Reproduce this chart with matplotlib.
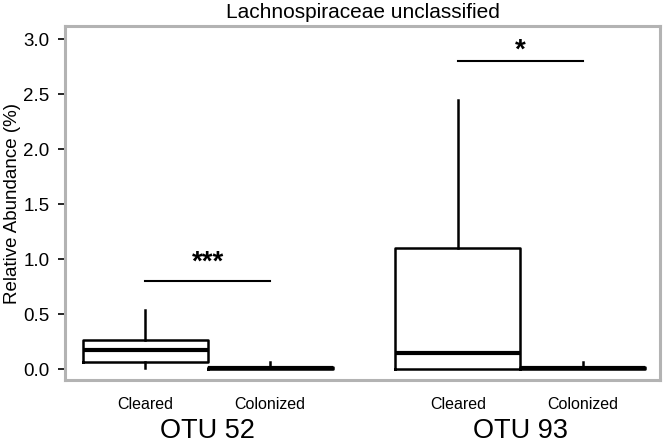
import matplotlib
matplotlib.use("Agg")
import matplotlib.pyplot as plt
import matplotlib.transforms as mtransforms

plt.rcParams['font.family'] = ['Liberation Sans', 'DejaVu Sans']

# box summary values (relative abundance, %)
groups = ["Cleared", "Colonized", "Cleared", "Colonized"]
otu_names = ["OTU 52", "OTU 93"]
positions = [1, 2, 3.5, 4.5]
whislo = [0.01, 0.0, 0.0, 0.0]
q1 = [0.06, 0.0, 0.0, 0.0]
med = [0.17, 0.01, 0.15, 0.01]
q3 = [0.26, 0.02, 1.10, 0.02]
whishi = [0.54, 0.06, 2.45, 0.06]

# significance bars
sig_x1 = [1, 3.5]
sig_x2 = [2, 4.5]
sig_y = [0.80, 2.80]
sig_text_y = [0.85, 2.78]
sig_lab = ["***", "*"]

stats = []
for i in range(len(groups)):
    stats.append(dict(whislo=whislo[i], q1=q1[i], med=med[i], q3=q3[i],
                      whishi=whishi[i], fliers=[], label=groups[i]))

fig = plt.figure(figsize=(6.66, 4.44), dpi=100)
ax = fig.add_axes([0.0976, 0.144, 0.894, 0.797])

lw = 1.8
ax.bxp(stats, positions=positions, widths=1.0, showcaps=False,
       boxprops=dict(color='black', linewidth=lw),
       whiskerprops=dict(color='black', linewidth=lw),
       medianprops=dict(color='black', linewidth=3.0))

for x1, x2, y, ty, lab in zip(sig_x1, sig_x2, sig_y, sig_text_y, sig_lab):
    ax.plot([x1, x2], [y, y], color='black', linewidth=1.5)
    ax.text((x1 + x2) / 2, ty, lab, ha='center', va='bottom',
            fontsize=20, fontweight='bold')

ax.set_xlim(0.36, 5.12)
ax.set_ylim(-0.1, 3.118)
ax.set_yticks([0.0, 0.5, 1.0, 1.5, 2.0, 2.5, 3.0])
ax.set_yticklabels(["0.0", "0.5", "1.0", "1.5", "2.0", "2.5", "3.0"])
ax.set_xticks(positions)
ax.set_xticklabels(groups, fontsize=11.5)
ax.tick_params(axis='x', length=0, pad=12)
ax.tick_params(axis='y', length=5, width=1.2, labelsize=13.5, color='black', pad=6)

for s in ax.spines.values():
    s.set_color('#b3b3b3')
    s.set_linewidth(2.2)

trans = mtransforms.blended_transform_factory(ax.transData, ax.transAxes)
ax.text(1.5, -0.108, otu_names[0], transform=trans, ha='center', va='top', fontsize=19.5)
ax.text(4.0, -0.108, otu_names[1], transform=trans, ha='center', va='top', fontsize=19.5)

ax.set_ylabel("Relative Abundance (%)", fontsize=13.5, labelpad=2)
ax.set_title("Lachnospiraceae unclassified", fontsize=15, pad=6)

fig.savefig("out.png", dpi=100)
